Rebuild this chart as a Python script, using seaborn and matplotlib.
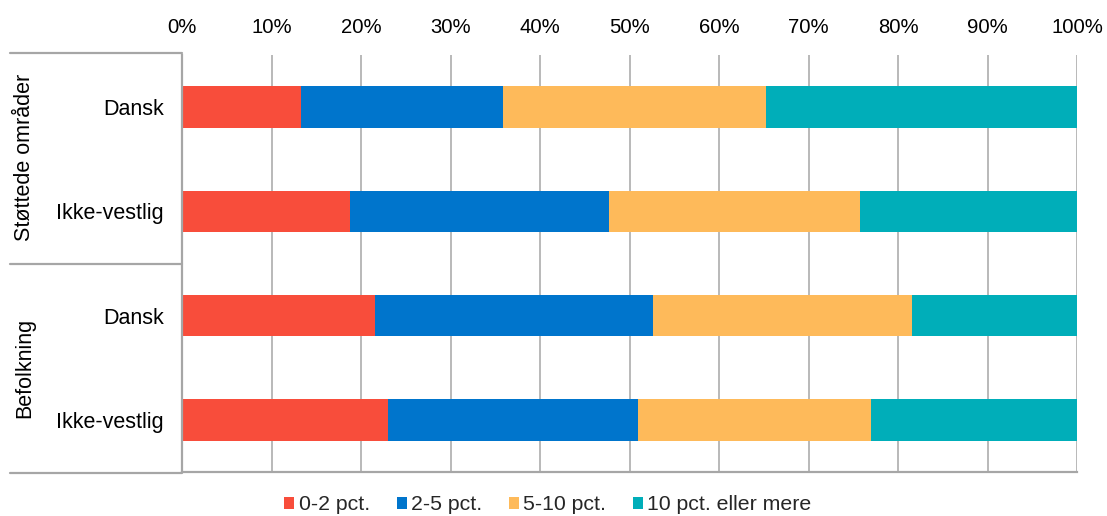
import matplotlib
matplotlib.use("Agg")
import matplotlib.pyplot as plt
from matplotlib.lines import Line2D
from matplotlib.patches import Patch
import numpy as np
import pandas as pd
import seaborn as sns

# Data: share of people by category (percent), stacked to 100
groups = ["Støttede områder", "Støttede områder", "Befolkning", "Befolkning"]
origins = ["Dansk", "Ikke-vestlig", "Dansk", "Ikke-vestlig"]
series = ["0-2 pct.", "2-5 pct.", "5-10 pct.", "10 pct. eller mere"]
share_0_2 = [13.3, 18.8, 21.6, 23.0]
share_2_5 = [22.6, 28.9, 31.0, 28.0]
share_5_10 = [29.4, 28.1, 29.0, 26.0]
share_10_plus = [34.7, 24.2, 18.4, 23.0]
colors = ["#F84D3B", "#0075CC", "#FEBA5A", "#00AEB9"]
x_ticks = list(range(0, 101, 10))

sns.set_theme(style="white")
plt.rcParams["font.family"] = ["Liberation Sans", "DejaVu Sans"]

W, H = 1107, 516
fig = plt.figure(figsize=(W / 100, H / 100), dpi=100)
ax_left, ax_right, ax_top, ax_bottom = 182, 1077, 55, 472
ax = fig.add_axes([ax_left / W, 1 - ax_bottom / H,
                   (ax_right - ax_left) / W, (ax_bottom - ax_top) / H])

rows = [f"{g}|{o}" for g, o in zip(groups, origins)]
values = np.array([share_0_2, share_2_5, share_5_10, share_10_plus])
cum = np.cumsum(values, axis=0)
df = pd.DataFrame({"row": rows})
for i, s in enumerate(series):
    df[s] = cum[i]

# Stacked bars: draw cumulative totals from the outermost segment inward
for i in range(len(series) - 1, -1, -1):
    sns.barplot(data=df, x=series[i], y="row", orient="h", color=colors[i],
                width=0.4, saturation=1, ax=ax, linewidth=0)

ax.set_xlim(0, 100)
ax.set_ylim(len(rows) - 0.5, -0.5)
ax.set_xlabel("")
ax.set_ylabel("")

ax.xaxis.tick_top()
ax.set_xticks(x_ticks)
ax.set_xticklabels([f"{t}%" for t in x_ticks])
ax.set_yticks(range(len(rows)))
ax.set_yticklabels(origins)
ax.tick_params(axis="x", length=0, pad=13, labelsize=14.6, colors="#000000")
ax.tick_params(axis="y", length=0, pad=13, labelsize=15.5, colors="#000000")

grid_color = "#B3B3B3"
ax.xaxis.grid(True, color=grid_color, linewidth=1.3)
ax.yaxis.grid(False)
ax.set_axisbelow(True)
for side in ["top", "right"]:
    ax.spines[side].set_visible(False)
for side in ["left", "bottom"]:
    ax.spines[side].set_color("#A6A6A6")
    ax.spines[side].set_linewidth(1.6)

# Group frame lines in the label area
def hline(y_px, x0_px, x1_px):
    fig.add_artist(Line2D([x0_px / W, x1_px / W], [1 - y_px / H, 1 - y_px / H],
                          transform=fig.transFigure, color="#A6A6A6", linewidth=1.6))

hline(53, 10, ax_left)
hline(264, 10, ax_left)
hline(473, 10, ax_left)

# Group labels
fig.text(25 / W, 1 - 157 / H, "Støttede områder", rotation=90, ha="center",
         va="center", fontsize=15.5, color="#000000")
fig.text(25 / W, 1 - 368 / H, "Befolkning", rotation=90, ha="center",
         va="center", fontsize=15.5, color="#000000")

handles = [Patch(facecolor=c, edgecolor="none", label=s) for c, s in zip(colors, series)]
fig.legend(handles=handles, loc="center", bbox_to_anchor=(548 / W, 1 - 505 / H),
           ncol=4, frameon=False, fontsize=15.3, handlelength=0.47, handleheight=0.47,
           handletextpad=0.2, columnspacing=1.27, borderaxespad=0, borderpad=0)

fig.savefig("out.png", dpi=100)
